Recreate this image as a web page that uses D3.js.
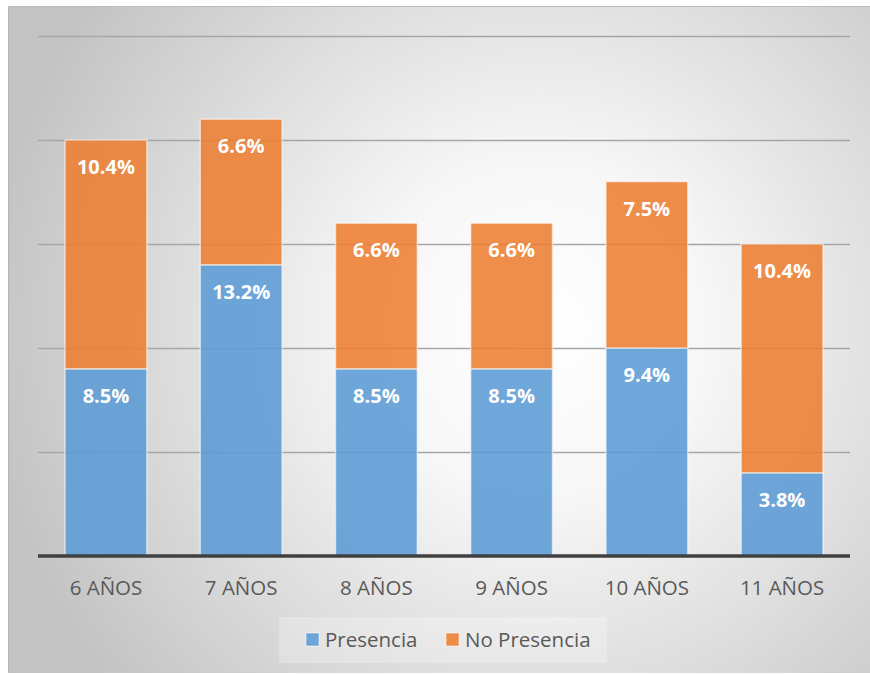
<!DOCTYPE html>
<html>
<head>
<meta charset="utf-8">
<script src="https://cdn.jsdelivr.net/npm/d3@7"></script>
<style>
  body { margin: 0; background: #fff; }
  svg { display: block; font-family: "Open Sans", "Noto Sans", sans-serif; }
</style>
</head>
<body>
<div id="chart"></div>
<script>
"use strict";

// counts of children per age group, out of the total sample
var categories = ["6 AÑOS", "7 AÑOS", "8 AÑOS", "9 AÑOS", "10 AÑOS", "11 AÑOS"];
var presencia = [9, 14, 9, 9, 10, 4];
var noPresencia = [11, 7, 7, 7, 8, 11];
var total = 106;
var yTicks = [0, 5, 10, 15, 20, 25];
var seriesNames = ["Presencia", "No Presencia"];
var colors = ["#5B9BD5", "#ED7D31"];

var width = 870, height = 674;
var margin = { top: 36, right: 20, bottom: 118, left: 38 };

var svg = d3.select("#chart").append("svg")
    .attr("width", width)
    .attr("height", height);

// == background panel ==
var defs = svg.append("defs");
var grad = defs.append("radialGradient")
    .attr("id", "bg")
    .attr("gradientUnits", "userSpaceOnUse")
    .attr("cx", 540).attr("cy", 330).attr("r", 560);
grad.append("stop").attr("offset", "0%").attr("stop-color", "#ffffff");
grad.append("stop").attr("offset", "30%").attr("stop-color", "#f7f7f7");
grad.append("stop").attr("offset", "100%").attr("stop-color", "#c3c3c3");

svg.append("rect")
    .attr("x", 8).attr("y", 6)
    .attr("width", width - 8).attr("height", height - 7)
    .attr("fill", "url(#bg)");
svg.append("line")
    .attr("x1", 8.5).attr("x2", 8.5).attr("y1", 6).attr("y2", height - 1)
    .attr("stroke", "#b4b4b4");
svg.append("line")
    .attr("x1", 8).attr("x2", width).attr("y1", 6.5).attr("y2", 6.5)
    .attr("stroke", "#bcbcbc");

var x = d3.scaleBand()
    .domain(categories)
    .range([margin.left, width - margin.right])
    .paddingInner(0.395)
    .paddingOuter(0.2);

var y = d3.scaleLinear()
    .domain([0, 25])
    .range([height - margin.bottom, margin.top]);

// gridlines
svg.append("g")
  .selectAll("line")
  .data(yTicks.slice(1))
  .enter().append("line")
    .attr("x1", margin.left).attr("x2", width - margin.right)
    .attr("y1", function(d) { return Math.round(y(d)) + 0.5; })
    .attr("y2", function(d) { return Math.round(y(d)) + 0.5; })
    .attr("stroke", "#a6a6a6")
    .attr("stroke-width", 1.3);

var rows = categories.map(function(c, i) {
  return { cat: c, Presencia: presencia[i], "No Presencia": noPresencia[i] };
});
var stacked = d3.stack().keys(seriesNames)(rows);

var layers = svg.append("g")
  .selectAll("g")
  .data(stacked)
  .enter().append("g")
    .attr("fill", function(d, i) { return colors[i]; });

layers.selectAll("rect")
  .data(function(d) { return d; })
  .enter().append("rect")
    .attr("x", function(d) { return x(d.data.cat); })
    .attr("y", function(d) { return y(d[1]); })
    .attr("width", x.bandwidth())
    .attr("height", function(d) { return y(d[0]) - y(d[1]); })
    .attr("fill-opacity", 0.88)
    .attr("stroke", "rgba(255,255,255,0.55)")
    .attr("stroke-width", 1.5);

layers.selectAll("text")
  .data(function(d) { return d; })
  .enter().append("text")
    .attr("x", function(d) { return x(d.data.cat) + x.bandwidth() / 2; })
    .attr("y", function(d) { return y(d[1]) + 27; })
    .attr("dy", "0.35em")
    .attr("text-anchor", "middle")
    .attr("fill", "#ffffff")
    .attr("font-size", 20)
    .attr("font-weight", "bold")
    .text(function(d) { return ((d[1] - d[0]) / total * 100).toFixed(1) + "%"; });

// baseline axis
svg.append("line")
    .attr("x1", margin.left).attr("x2", width - margin.right)
    .attr("y1", y(0)).attr("y2", y(0))
    .attr("stroke", "#404040")
    .attr("stroke-width", 3.5);

var xAxis = svg.append("g")
    .attr("transform", "translate(0," + y(0) + ")")
    .call(d3.axisBottom(x).tickSize(0).tickPadding(24));
xAxis.select(".domain").remove();
xAxis.selectAll("text")
    .attr("font-size", 20.5)
    .attr("font-family", "'Open Sans', 'Noto Sans', sans-serif")
    .attr("fill", "#595959");

// legend
svg.append("rect")
    .attr("x", 279).attr("y", 617)
    .attr("width", 328).attr("height", 46)
    .attr("fill", "#ffffff")
    .attr("fill-opacity", 0.25);

var legendX = [306, 446];
var legend = svg.append("g")
  .selectAll("g")
  .data(seriesNames)
  .enter().append("g")
    .attr("transform", function(d, i) { return "translate(" + legendX[i] + ",633)"; });
legend.append("rect")
    .attr("width", 13).attr("height", 13)
    .attr("fill", function(d, i) { return colors[i]; })
    .attr("fill-opacity", 0.88)
    .attr("stroke", "rgba(255,255,255,0.55)");
legend.append("text")
    .attr("x", 19).attr("y", 7)
    .attr("dy", "0.35em")
    .attr("font-size", 20.5)
    .attr("fill", "#595959")
    .text(function(d) { return d; });
</script>
</body>
</html>
